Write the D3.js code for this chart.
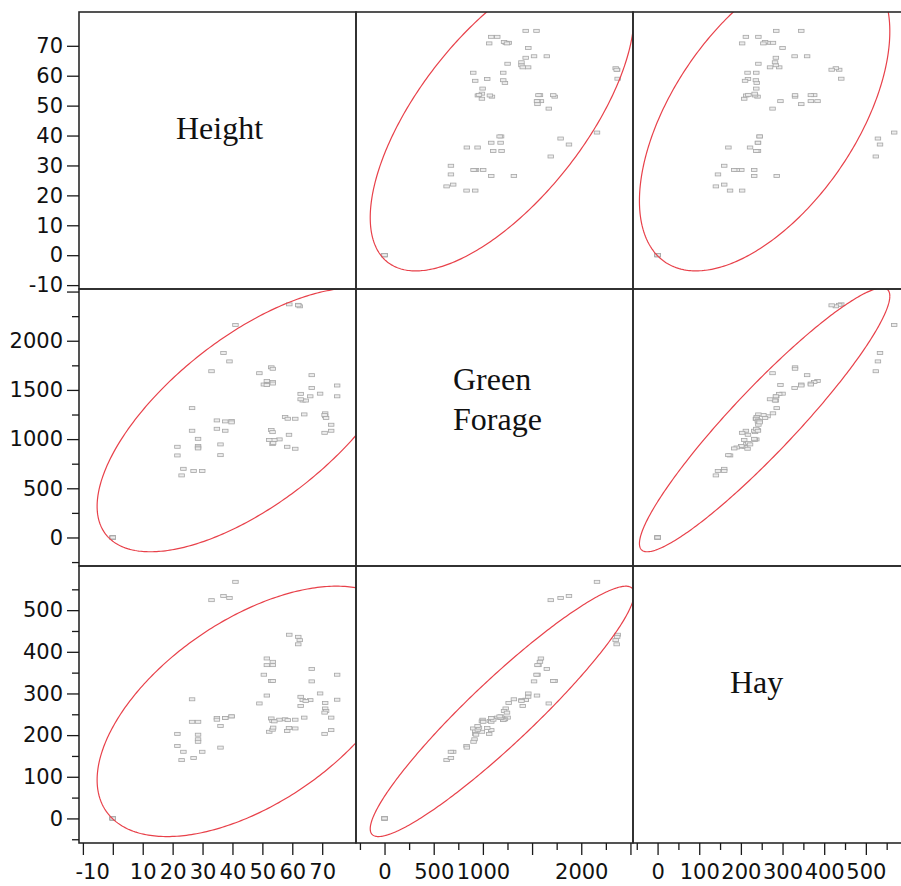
<!DOCTYPE html>
<html>
<head>
<meta charset="utf-8">
<script src="https://cdn.jsdelivr.net/npm/d3@7"></script>
<style>
  html, body { margin: 0; padding: 0; background: #fff; }
  svg { display: block; }
</style>
</head>
<body>
<svg id="chart" width="901" height="886"></svg>
<script>
// Variables of the scatterplot matrix
const variables = ["Height", "Green Forage", "Hay"];
const variableLines = [["Height"], ["Green", "Forage"], ["Hay"]];

// Observations (one entry per row; the last rows are zero readings)
const height = [
  41, 33, 37, 39, 59, 62, 62.5, 62, 51.5, 53.5, 53.5, 51.5, 50.5, 51.5, 53, 53.5, 49,
  66.5, 66.5, 75, 75, 69.3, 62.8, 66, 63.5, 64.5, 62.8, 71, 71, 71.3, 70.8, 64, 73,
  57.6, 58.5, 61, 73, 70.8, 58.9, 58.3, 61, 53, 53.4, 55.7, 54, 52.3, 53.4, 53.6,
  26.5, 26.5, 28.5, 21.6, 21.6, 23.6, 23, 27, 29.9, 28.5, 28.5, 28.5,
  34.8, 37.6, 39.7, 39.7, 34.8, 37.6, 36, 36,
  0, 0, 0, 0, 0, 0
];
const greenForage = [
  2160, 1690, 1875, 1790, 2370, 2365, 2350, 2360, 1590, 1580, 1565, 1555, 1555, 1550, 1730, 1715, 1670,
  1650, 1520, 1545, 1435, 1462, 1460, 1435, 1392, 1392, 1405, 1262, 1232, 1215, 1245, 1251, 1146,
  1224, 1207, 1207, 1085, 1064, 1044, 922, 902, 1092, 1071, 997, 990, 990, 949, 960,
  1315, 1085, 1003, 922, 834, 698, 631, 675, 675, 930, 915, 905,
  1190, 1180, 1185, 1170, 1105, 1085, 946, 837,
  0, 0, 0, 0, 0, 0
];
const hay = [
  568, 524, 534, 529, 441, 436, 428, 418, 384, 376, 368, 368, 345, 295, 330, 330, 276,
  359, 329, 345, 285, 300, 292, 284, 284, 282, 270, 277, 264, 258, 254, 242, 242,
  238, 236, 237, 212, 203, 217, 210, 216, 240, 234, 237, 233, 208, 213, 218,
  286, 232, 232, 203, 174, 160, 140, 145, 160, 201, 190, 184,
  241, 241, 245, 245, 237, 241, 222, 170,
  0, 0, 0, 0, 0, 0
];
const columns = [height, greenForage, hay];

// Axis ranges and ticks
const heightDomain = [-11.3, 81.3];
const greenForageDomain = [-290, 2526];
const hayDomain = [-59, 606];
const domains = [heightDomain, greenForageDomain, hayDomain];

const heightMajor = [-10, 0, 10, 20, 30, 40, 50, 60, 70];
const greenForageMajor = [0, 500, 1000, 1500, 2000, 2500];
const hayMajor = [0, 100, 200, 300, 400, 500];
const majorTicks = [heightMajor, greenForageMajor, hayMajor];

const heightMinor = [];
const greenForageMinor = [-250, 250, 750, 1250, 1750, 2250];
const hayMinor = [-50, 50, 150, 250, 350, 450, 550];
const minorTicks = [heightMinor, greenForageMinor, hayMinor];

// Labels printed on the left and bottom axes
const heightLeftLabels = [-10, 0, 10, 20, 30, 40, 50, 60, 70];
const heightBottomLabels = [-10, 10, 20, 30, 40, 50, 60, 70];
const greenForageLeftLabels = [0, 500, 1000, 1500, 2000];
const greenForageBottomLabels = [0, 500, 1000, 2000];
const hayLeftLabels = [0, 100, 200, 300, 400, 500];
const hayBottomLabels = [0, 100, 200, 300, 400, 500];
const leftLabels = [heightLeftLabels, greenForageLeftLabels, hayLeftLabels];
const bottomLabels = [heightBottomLabels, greenForageBottomLabels, hayBottomLabels];

const ellipseLevel = 0.95;

// ---- layout ----
const S = 277;          // panel size
const gridLeft = 79, gridTop = 12;
const frameColor = "#2a2a2a";
const axisFont = "'DejaVu Sans', Verdana, sans-serif";
const titleFont = "'Liberation Serif', 'Times New Roman', serif";

const svg = d3.select("#chart");
svg.append("rect").attr("width", 901).attr("height", 886).attr("fill", "#fff");

const xs = domains.map(d => d3.scaleLinear().domain(d).range([0, S]));
const ys = domains.map(d => d3.scaleLinear().domain(d).range([S, 0]));

// F(2, d) quantile has a closed form
function fQuantile2(p, d) { return (d / 2) * (Math.pow(1 - p, -2 / d) - 1); }

function ellipsePoints(a, b) {
  const n = a.length;
  const ma = d3.mean(a), mb = d3.mean(b);
  let saa = 0, sbb = 0, sab = 0;
  for (let k = 0; k < n; k++) {
    const da = a[k] - ma, db = b[k] - mb;
    saa += da * da; sbb += db * db; sab += da * db;
  }
  saa /= (n - 1); sbb /= (n - 1); sab /= (n - 1);
  const r = Math.sqrt(2 * (n - 1) / (n - 2) * fQuantile2(ellipseLevel, n - 2));
  const l11 = Math.sqrt(saa), l21 = sab / l11, l22 = Math.sqrt(Math.max(sbb - l21 * l21, 0));
  return d3.range(0, 361).map(deg => {
    const t = deg * Math.PI / 180, c = Math.cos(t), s = Math.sin(t);
    return [ma + r * l11 * c, mb + r * (l21 * c + l22 * s)];
  });
}

const defs = svg.append("defs");

for (let i = 0; i < 3; i++) {
  for (let j = 0; j < 3; j++) {
    const px = gridLeft + j * S, py = gridTop + i * S;
    const g = svg.append("g").attr("transform", `translate(${px},${py})`);
    if (i === j) {
      const lines = variableLines[i];
      const y0 = 127 - (lines.length - 1) * 26.5;
      const t = g.append("text")
        .attr("font-family", titleFont).attr("font-size", 32).attr("fill", "#111");
      lines.forEach((ln, k) => {
        t.append("tspan").attr("x", 97).attr("y", y0 + k * 40).text(ln);
      });
      continue;
    }
    const clipId = `clip-${i}-${j}`;
    defs.append("clipPath").attr("id", clipId)
      .append("rect").attr("width", S).attr("height", S);
    const inner = g.append("g").attr("clip-path", `url(#${clipId})`);
    const xv = columns[j], yv = columns[i];
    const x = xs[j], y = ys[i];

    inner.selectAll("rect.pt").data(d3.range(xv.length)).join("rect")
      .attr("class", "pt")
      .attr("x", k => x(xv[k]) - 2.75).attr("y", k => y(yv[k]) - 1.5)
      .attr("width", 5.5).attr("height", 3)
      .attr("fill", "#ededed").attr("stroke", "#a6a6a6").attr("stroke-width", 0.8);

    inner.append("path")
      .datum(ellipsePoints(xv, yv))
      .attr("d", d3.line().x(d => x(d[0])).y(d => y(d[1])))
      .attr("fill", "none").attr("stroke", "#e8414a").attr("stroke-width", 1.2);
  }
}

// panel frames
for (let i = 0; i < 3; i++) {
  for (let j = 0; j < 3; j++) {
    svg.append("rect")
      .attr("x", gridLeft + j * S).attr("y", gridTop + i * S)
      .attr("width", S).attr("height", S)
      .attr("fill", "none").attr("stroke", frameColor).attr("stroke-width", 1.6);
  }
}

function styleAxis(g) {
  g.select(".domain").remove();
  g.attr("font-family", axisFont).attr("font-size", 21).attr("color", "#1a1a1a");
  g.selectAll(".tick line").attr("stroke-width", 1.3);
  g.selectAll(".tick text").attr("fill", "#111");
}

// left axes
for (let i = 0; i < 3; i++) {
  const g = svg.append("g").attr("transform", `translate(${gridLeft},${gridTop + i * S})`);
  g.append("g").call(d3.axisLeft(ys[i]).tickValues(minorTicks[i]).tickSize(7).tickFormat(""))
    .call(styleAxis);
  g.append("g").call(d3.axisLeft(ys[i]).tickValues(majorTicks[i]).tickSize(12).tickPadding(4)
      .tickFormat(d => leftLabels[i].includes(d) ? d : ""))
    .call(styleAxis);
}

// bottom axes
for (let j = 0; j < 3; j++) {
  const g = svg.append("g").attr("transform", `translate(${gridLeft + j * S},${gridTop + 3 * S})`);
  g.append("g").call(d3.axisBottom(xs[j]).tickValues(minorTicks[j]).tickSize(7).tickFormat(""))
    .call(styleAxis);
  const major = g.append("g").call(d3.axisBottom(xs[j]).tickValues(majorTicks[j]).tickSize(12).tickPadding(9)
      .tickFormat(d => bottomLabels[j].includes(d) ? d : ""))
    .call(styleAxis);
  // keep labels from hanging past the frame's left edge
  major.selectAll(".tick text").each(function(d) {
    const w = this.getComputedTextLength();
    const pos = xs[j](d);
    if (w > 0 && pos - w / 2 < -4) d3.select(this).attr("x", -4 - (pos - w / 2));
  });
}
</script>
</body>
</html>
